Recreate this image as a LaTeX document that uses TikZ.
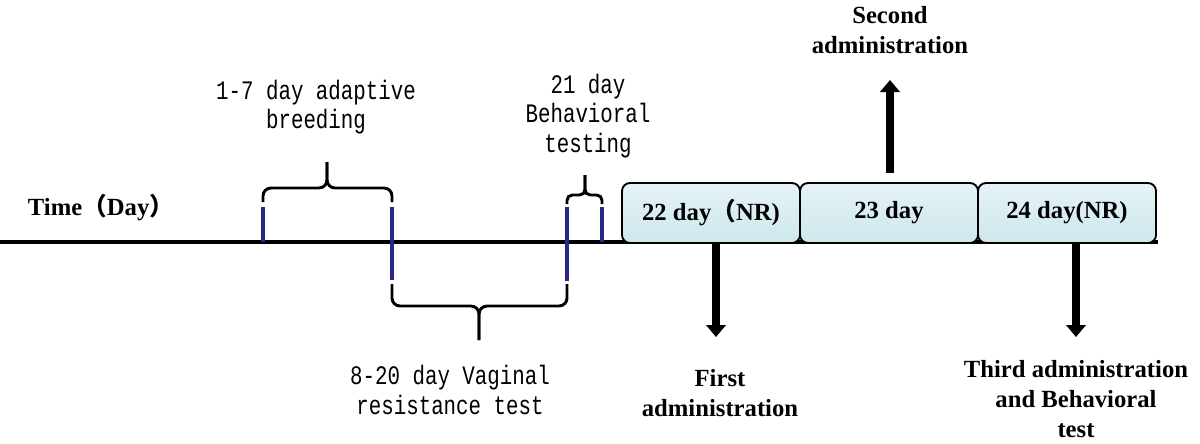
\documentclass[tikz,border=0pt]{standalone}
\usepackage{fontspec}
\setmainfont{Liberation Serif}
\newfontfamily\cjk{Noto Sans CJK SC}
\newfontfamily\typew[FakeStretch=0.78]{Liberation Mono}
\usetikzlibrary{arrows.meta}

\definecolor{daytop}{RGB}{228,243,246}
\definecolor{daybot}{RGB}{206,231,236}
\definecolor{tickblue}{RGB}{40,40,140}

\begin{document}
\begin{tikzpicture}[x=0.75pt, y=-0.75pt,
  daybox/.style={draw, line width=1.4pt, rounded corners=6pt, top color=daytop, bottom color=daybot,
    minimum width=133.5pt, minimum height=45pt, inner sep=0pt, font=\bfseries\fontsize{18.5}{21}\selectfont},
  plain/.style={align=center, inner sep=0pt, font=\bfseries\fontsize{18.5}{22.5}\selectfont},
  mono/.style={align=center, inner sep=0pt, font=\typew\fontsize{20}{22}\selectfont},
  daytick/.style={draw=tickblue, line width=2.4pt},
  brace/.style={line width=2.2pt, rounded corners=6pt},
  bigarrow/.style={line width=5.6pt, -{Triangle[width=14.5pt, length=9pt]}}
]
\useasboundingbox (0,0) rectangle (1200,443);

% time axis
\draw[line width=2.4pt] (0,242) -- (1158,242);
\node[plain] (time) at (101,208) {Time{\cjk（}Day{\cjk）}};

% day boxes
\node[daybox] (b22) at (711,213) {22 day{\cjk（}NR)};
\node[daybox] (b23) at (889,213) {23 day};
\node[daybox] (b24) at (1067,213) {24 day(NR)};

% ticks on the axis
\draw[daytick] (263,207) -- (263,242);
\draw[daytick] (392,207) -- (392,280);
\draw[daytick] (567,207) -- (567,281);
\draw[daytick] (602,207) -- (602,242);

% braces
\draw[brace] (263,202) -- (263,188) -- (327,188) -- (327,162);
\draw[brace] (392,202) -- (392,188) -- (327,188) -- (327,162);
\draw[brace, rounded corners=4pt] (567,204) -- (567,195) -- (585,195) -- (585,175);
\draw[brace, rounded corners=4pt] (602,204) -- (602,195) -- (585,195) -- (585,175);
\draw[brace] (392,284) -- (392,306) -- (479,306) -- (479,340);
\draw[brace] (567,284) -- (567,306) -- (479,306) -- (479,340);

% brace labels
\node[mono] (adapt) at (316,107) {1-7 day adaptive\\breeding};
\node[mono] (behav) at (588,116) {21 day\\Behavioral\\testing};
\node[mono] (vagin) at (450,390) {8-20 day Vaginal\\resistance test};

% administrations
\coordinate (firstTip) at (716,337);
\coordinate (secondFoot) at (890,173);
\coordinate (secondTip) at (890,80);
\coordinate (thirdTip) at (1076,337);
\draw[bigarrow] (b22.south -| firstTip) -- (firstTip);
\draw[bigarrow] (secondFoot) -- (secondTip);
\draw[bigarrow] (b24.south -| thirdTip) -- (thirdTip);

\node[plain] (first) at (720,393) {First\\administration};
\node[plain] (second) at (890,30) {Second\\administration};
\node[plain] (third) at (1076,399) {Third administration\\and Behavioral\\test};
\end{tikzpicture}
\end{document}
